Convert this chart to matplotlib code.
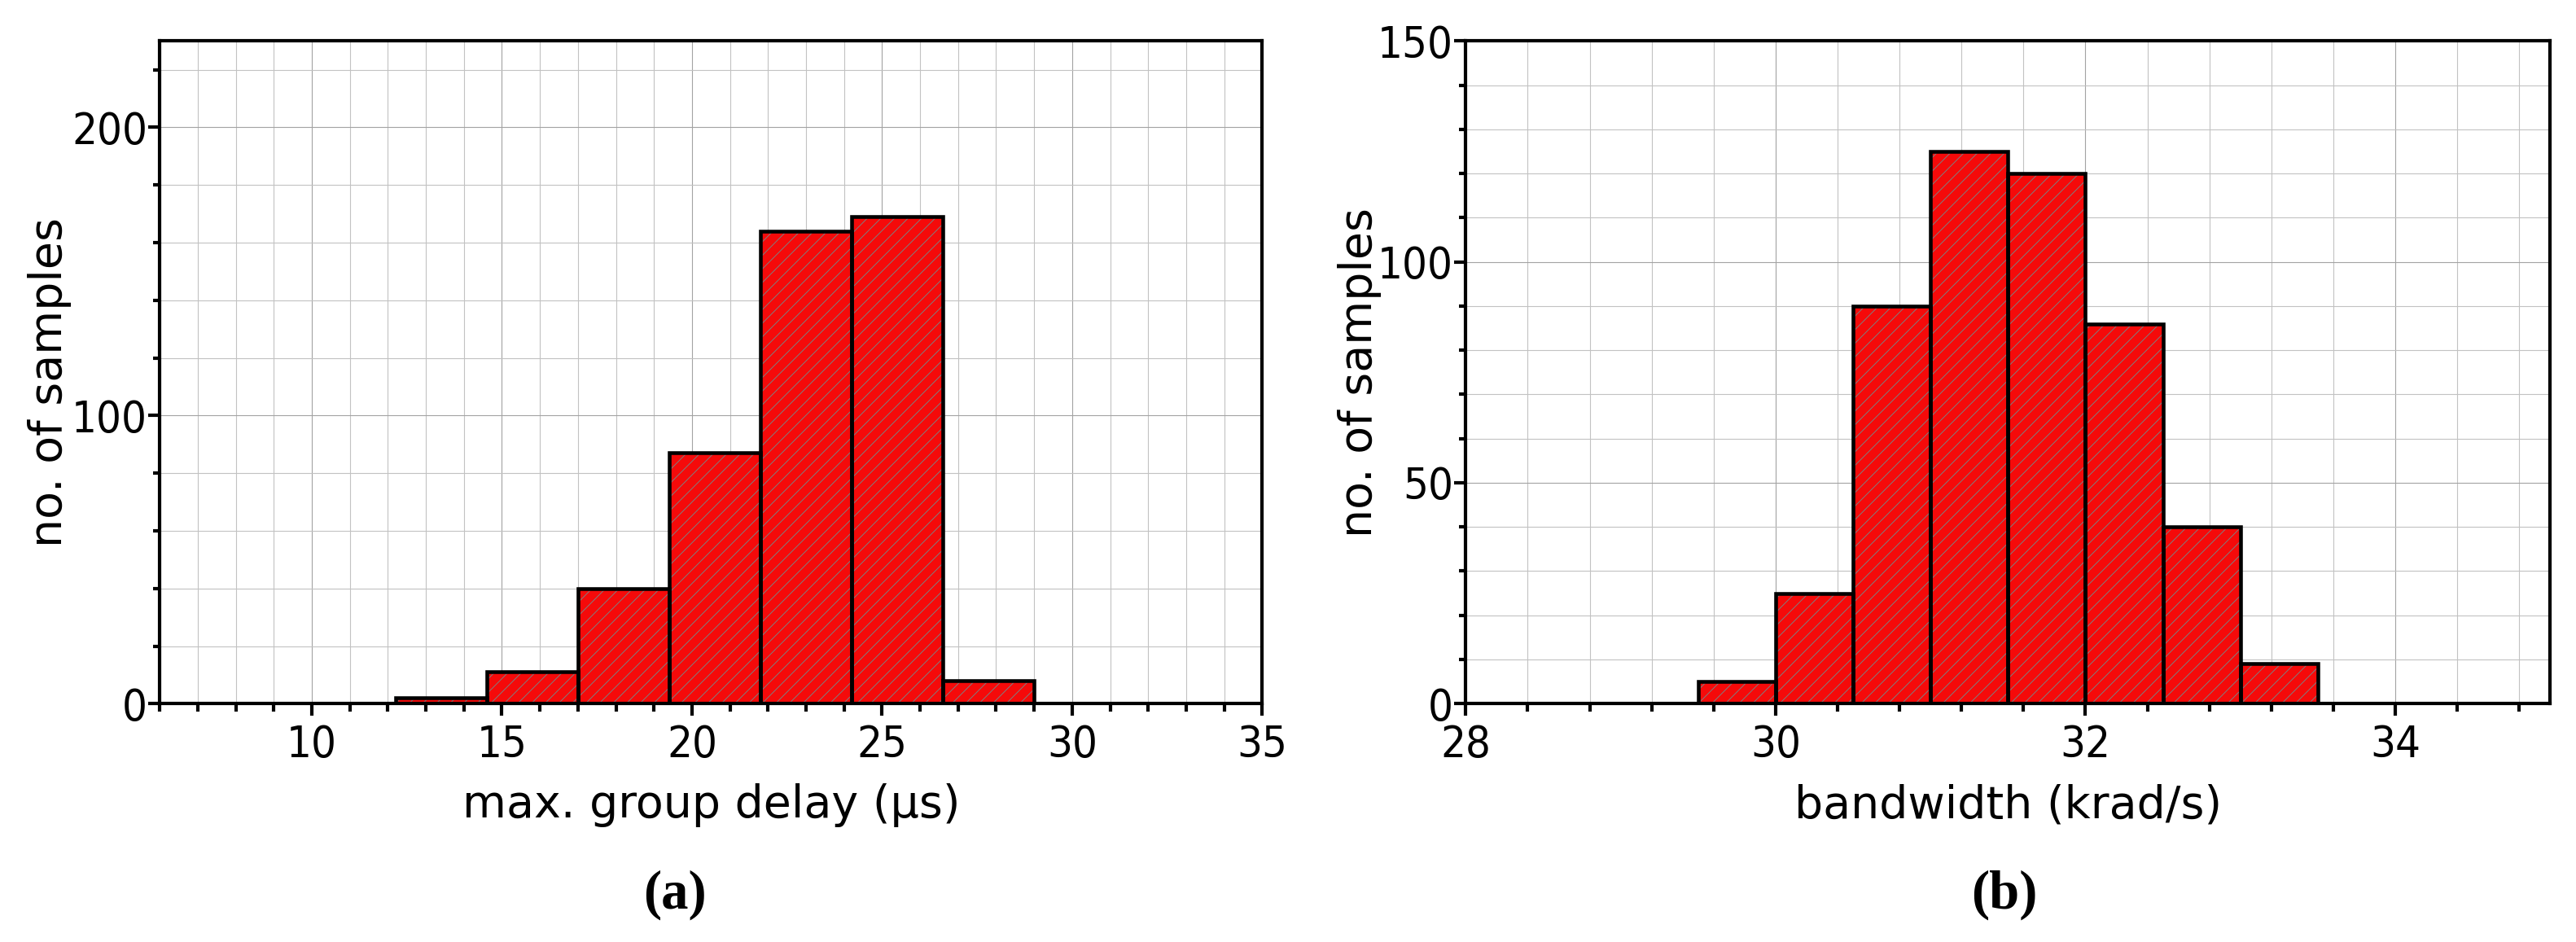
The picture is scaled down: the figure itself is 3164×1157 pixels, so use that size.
import numpy as np
import matplotlib
matplotlib.use("Agg")
import matplotlib.pyplot as plt
from matplotlib import font_manager
from matplotlib.ticker import MultipleLocator

plt.rcParams['font.family'] = ['DejaVu Sans']
plt.rcParams['hatch.linewidth'] = 0.7

# (a) max. group delay histogram
delay_edges = [12.2, 14.6, 17.0, 19.4, 21.8, 24.2, 26.6, 29.0]
delay_counts = [2, 11, 40, 87, 164, 169, 8]

# (b) bandwidth histogram
bw_edges = [29.5, 30.0, 30.5, 31.0, 31.5, 32.0, 32.5, 33.0, 33.5]
bw_counts = [5, 25, 90, 125, 120, 86, 40, 9]

RED = '#f50a0a'
HATCH = '#7f7f7f'

# the tick numbers in the original are narrow; use a condensed face if there is one
names = {f.name for f in font_manager.fontManager.ttflist}
cond = font_manager.findfont(font_manager.FontProperties(family='DejaVu Sans', stretch='condensed'))
if 'Condensed' in cond:
    TICK_FP = dict(family='DejaVu Sans', stretch='condensed')
elif 'Liberation Sans Narrow' in names:
    TICK_FP = dict(family='Liberation Sans Narrow')
else:
    TICK_FP = dict(family='Roboto')


def hist_panel(ax, edges, counts, xlim, ylim, xmaj, xmin, ymaj, ymin, xlabel):
    edges = np.asarray(edges)
    widths = np.diff(edges)
    # fill + grey hatch first, black outline on top
    ax.bar(edges[:-1], counts, width=widths, align='edge', color=RED,
           edgecolor=HATCH, hatch='//', linewidth=0, zorder=2)
    ax.bar(edges[:-1], counts, width=widths, align='edge', fill=False,
           edgecolor='black', linewidth=3.3, zorder=3)

    ax.set_xlim(*xlim)
    ax.set_ylim(*ylim)
    ax.xaxis.set_major_locator(MultipleLocator(xmaj))
    ax.xaxis.set_minor_locator(MultipleLocator(xmin))
    ax.yaxis.set_major_locator(MultipleLocator(ymaj))
    ax.yaxis.set_minor_locator(MultipleLocator(ymin))

    ax.set_axisbelow(True)
    ax.grid(which='major', color='#a3a3a3', linewidth=0.8)
    ax.grid(which='minor', color='#c2c2c2', linewidth=0.8)

    for s in ax.spines.values():
        s.set_linewidth(3.0)
    ax.tick_params(which='both', direction='out', width=3.0, labelsize=39)
    ax.tick_params(axis='x', which='major', length=11, pad=7)
    ax.tick_params(axis='x', which='minor', length=7)
    ax.tick_params(axis='y', which='major', length=10, pad=1)
    ax.tick_params(axis='y', which='minor', length=6)
    for lab in ax.get_xticklabels() + ax.get_yticklabels():
        lab.set(**TICK_FP)

    ax.set_xlabel(xlabel, fontsize=40, labelpad=15)
    ax.set_ylabel('no. of samples', fontsize=40, va='center')


fig = plt.figure(figsize=(31.64, 11.57), dpi=100)
ax1 = fig.add_axes([0.062, 0.253, 0.428, 0.7035])
ax2 = fig.add_axes([0.569, 0.253, 0.421, 0.7035])

hist_panel(ax1, delay_edges, delay_counts, (6, 35), (0, 230), 5, 1, 100, 20,
           'max. group delay (μs)')
hist_panel(ax2, bw_edges, bw_counts, (28, 35), (0, 150), 2, 0.4, 50, 10,
           'bandwidth (krad/s)')
ax1.yaxis.set_label_coords(-0.1, 0.485)
ax2.yaxis.set_label_coords(-0.098, 0.5)

fig.text(0.262, 0.05, '(a)', fontsize=48, fontweight='bold',
         family='Liberation Serif', ha='center', va='center')
fig.text(0.778, 0.05, '(b)', fontsize=48, fontweight='bold',
         family='Liberation Serif', ha='center', va='center')

fig.savefig('out.png', dpi=100)
